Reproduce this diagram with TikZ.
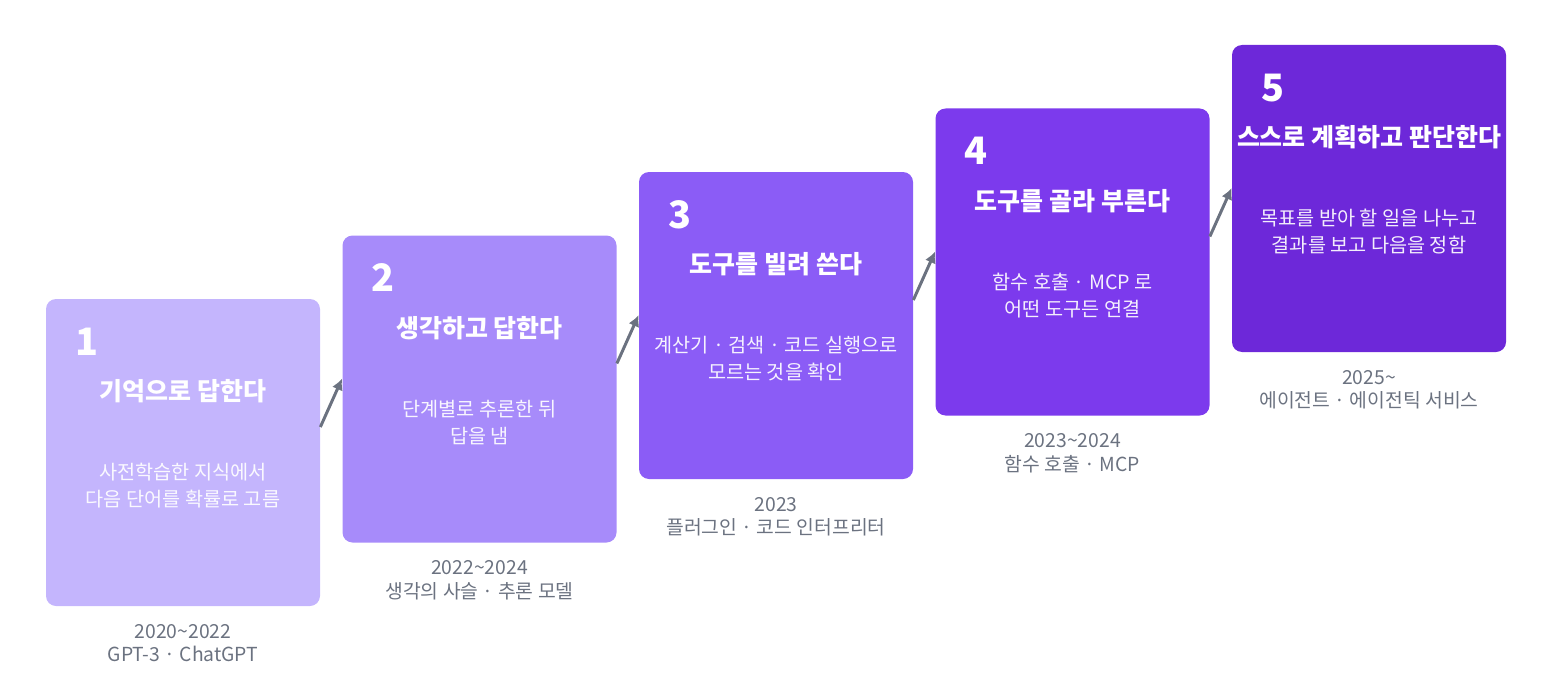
\documentclass[tikz,border=0pt]{standalone}
\usepackage{fontspec}
\setmainfont{Noto Sans CJK KR}
\usepackage{xcolor}
\usetikzlibrary{arrows.meta}
\usetikzlibrary{positioning}
\usetikzlibrary{calc}
\definecolor{violetA}{HTML}{C4B5FD}
\definecolor{violetB}{HTML}{A78BFA}
\definecolor{violetC}{HTML}{8B5CF6}
\definecolor{violetD}{HTML}{7C3AED}
\definecolor{violetE}{HTML}{6D28D9}
\definecolor{labelgray}{HTML}{6B7280}
\tikzstyle{stagebox} = [rectangle, rounded corners=0.2cm, minimum width=5.48cm, minimum height=6.14cm, inner sep=0, draw=none]
\tikzstyle{stagenum} = [anchor=base west, inner sep=0, text=white, font=\fontsize{21.5}{24}\selectfont\bfseries]
\tikzstyle{stagetitle} = [anchor=base, inner sep=0, text=white, font=\fontsize{14.2}{17}\selectfont\bfseries]
\tikzstyle{stagedesc} = [anchor=base, inner sep=0, align=center, text=white, text opacity=0.92, font=\fontsize{11.2}{15.3}\selectfont]
\tikzstyle{stageyear} = [anchor=base, inner sep=0, align=center, text=labelgray, font=\fontsize{11}{13.3}\selectfont]
\tikzstyle{link} = [line width=1.7pt, draw=labelgray, -{Latex[length=6.5pt,width=6.5pt]}]

\begin{document}
\begin{tikzpicture}[node distance = 5.93cm]
                        \useasboundingbox (0,0) rectangle (30.82,13.64);
                        % stage boxes
                        \node (1) [stagebox, fill=violetA] at (3.66,4.59) {};
                        \node (2) [stagebox, fill=violetB, right of=1, yshift=1.27cm] {};
                        \node (3) [stagebox, fill=violetC, right of=2, yshift=1.27cm] {};
                        \node (4) [stagebox, fill=violetD, right of=3, yshift=1.27cm] {};
                        \node (5) [stagebox, fill=violetE, right of=4, yshift=1.27cm] {};
                        % stage 1
                        \node (n1) [stagenum] at ($(1.north west)+(0.58,-1.13)$) {1};
                        \node (t1) [stagetitle] at ($(1.north)+(0,-2.04)$) {기억으로 답한다};
                        \node (d1) [stagedesc] at ($(1.north)+(0,-4.16)$) {사전학습한 지식에서\\다음 단어를 확률로 고름};
                        \node (y1) [stageyear] at ($(1.south)+(0,-1.11)$) {2020\textasciitilde 2022\\GPT-3 · ChatGPT};
                        % stage 2
                        \node (n2) [stagenum] at ($(2.north west)+(0.58,-1.13)$) {2};
                        \node (t2) [stagetitle] at ($(2.north)+(0,-2.04)$) {생각하고 답한다};
                        \node (d2) [stagedesc] at ($(2.north)+(0,-4.16)$) {단계별로 추론한 뒤\\답을 냄};
                        \node (y2) [stageyear] at ($(2.south)+(0,-1.11)$) {2022\textasciitilde 2024\\생각의 사슬 · 추론 모델};
                        % stage 3
                        \node (n3) [stagenum] at ($(3.north west)+(0.58,-1.13)$) {3};
                        \node (t3) [stagetitle] at ($(3.north)+(0,-2.04)$) {도구를 빌려 쓴다};
                        \node (d3) [stagedesc] at ($(3.north)+(0,-4.16)$) {계산기 · 검색 · 코드 실행으로\\모르는 것을 확인};
                        \node (y3) [stageyear] at ($(3.south)+(0,-1.11)$) {2023\\플러그인 · 코드 인터프리터};
                        % stage 4
                        \node (n4) [stagenum] at ($(4.north west)+(0.58,-1.13)$) {4};
                        \node (t4) [stagetitle] at ($(4.north)+(0,-2.04)$) {도구를 골라 부른다};
                        \node (d4) [stagedesc] at ($(4.north)+(0,-4.16)$) {함수 호출 · MCP 로\\어떤 도구든 연결};
                        \node (y4) [stageyear] at ($(4.south)+(0,-1.11)$) {2023\textasciitilde 2024\\함수 호출 · MCP};
                        % stage 5
                        \node (n5) [stagenum] at ($(5.north west)+(0.58,-1.13)$) {5};
                        \node (t5) [stagetitle] at ($(5.north)+(0,-2.04)$) {스스로 계획하고 판단한다};
                        \node (d5) [stagedesc] at ($(5.north)+(0,-4.16)$) {목표를 받아 할 일을 나누고\\결과를 보고 다음을 정함};
                        \node (y5) [stageyear] at ($(5.south)+(0,-1.11)$) {2025\textasciitilde\\에이전트 · 에이전틱 서비스};
                        % connectors
                        \draw [link] ($(1.east)+(0,0.51)$) -- ($(2.west)+(0,0.21)$);
                        \draw [link] ($(2.east)+(0,0.51)$) -- ($(3.west)+(0,0.21)$);
                        \draw [link] ($(3.east)+(0,0.51)$) -- ($(4.west)+(0,0.21)$);
                        \draw [link] ($(4.east)+(0,0.51)$) -- ($(5.west)+(0,0.21)$);
                    \end{tikzpicture}
\end{document}
